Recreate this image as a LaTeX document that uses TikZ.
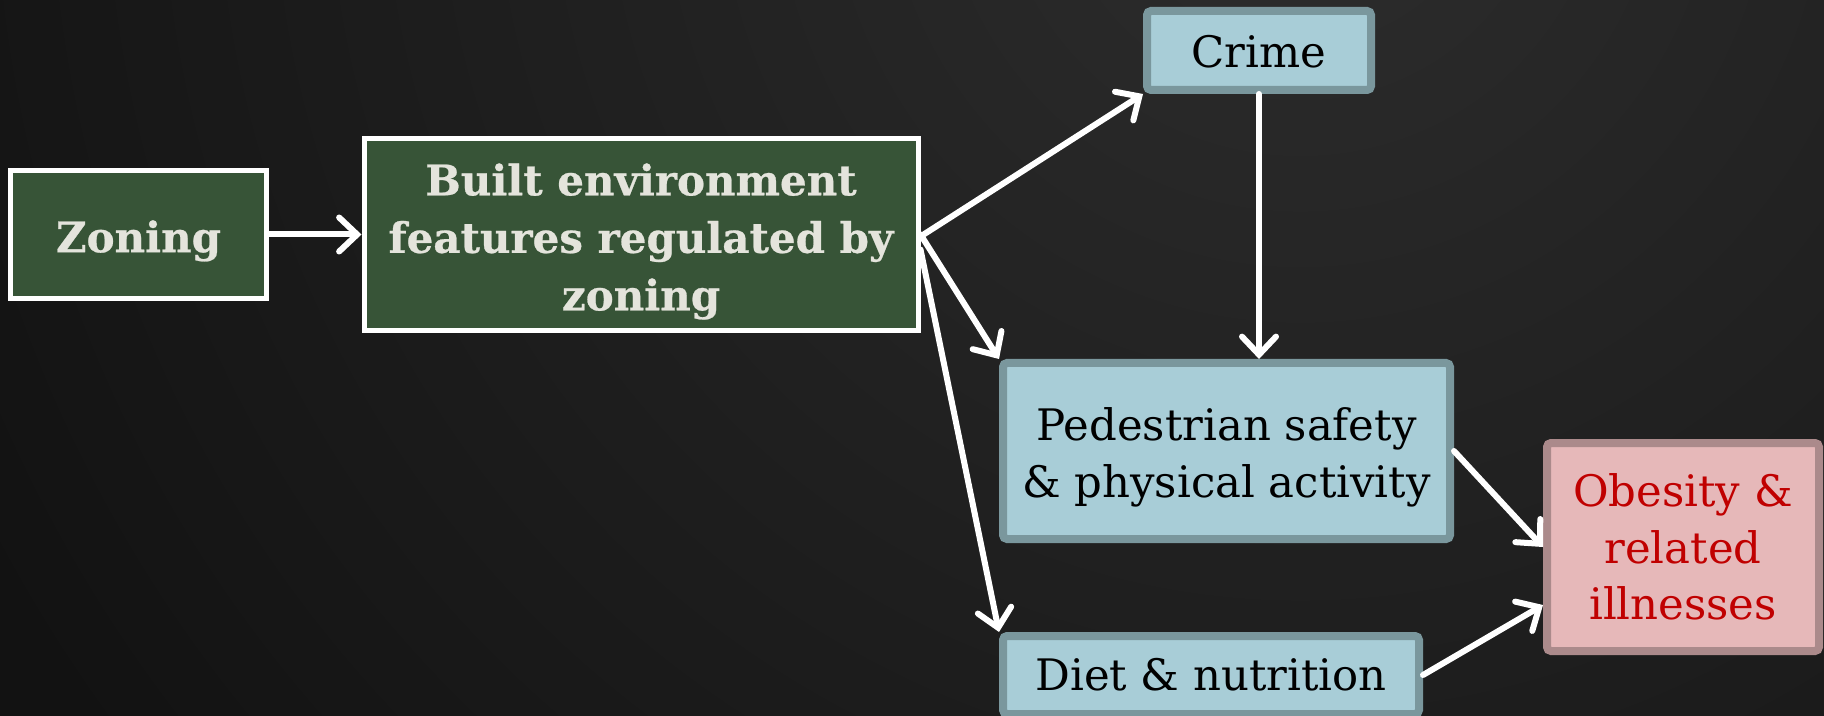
\documentclass[tikz,border=0pt]{standalone}
\usepackage{fontspec}
\usetikzlibrary{arrows.meta}
\setmainfont{DejaVu Serif}
\newfontfamily\greenfont{DejaVu Serif Bold}[FakeBold=0.6]
\definecolor{bgdark}{HTML}{121212}
\definecolor{bglight}{HTML}{2D2D2D}
\definecolor{greenfill}{HTML}{375437}
\definecolor{greentext}{HTML}{E4E4DC}
\definecolor{bluefill}{HTML}{A8CDD7}
\definecolor{blueline}{HTML}{7A979D}
\definecolor{pinkfill}{HTML}{E6B8B9}
\definecolor{pinkline}{HTML}{AB8A8B}
\definecolor{redtext}{HTML}{C00000}
\tikzset{
  greenbox/.style={draw=white, line width=2.5pt, fill=greenfill, inner sep=0pt},
  greenlabel/.style={text=greentext, align=center, inner sep=0pt,
    font=\greenfont\fontsize{21}{28.75}\selectfont},
  bluebox/.style={draw=blueline, line width=4pt, fill=bluefill, rounded corners=2pt, inner sep=0pt},
  bluelabel/.style={text=black, align=center, inner sep=0pt, font=\fontsize{21.7}{28.5}\selectfont},
  pinkbox/.style={draw=pinkline, line width=4pt, fill=pinkfill, rounded corners=2pt, inner sep=0pt},
  pinklabel/.style={text=redtext, align=center, inner sep=0pt, font=\fontsize{21.7}{28.25}\selectfont},
  flow/.style={draw=white, line width=3pt, line cap=round,
    -{Straight Barb[length=9pt,width=17pt,line cap=round]}}
}
\begin{document}
\begin{tikzpicture}[x=0.5pt,y=-0.5pt]
\useasboundingbox (0,0) rectangle (1824,716);
\clip (0,0) rectangle (1824,716);
\fill[bgdark] (0,0) rectangle (1824,716);
\shade[inner color=bglight, outer color=bgdark] (1300,-150) circle (1500);
% boxes
\node[greenbox, minimum width=128pt, minimum height=64pt] (zoning) at (138.5,234.5) {};
\node[greenbox, minimum width=277pt, minimum height=96pt] (built) at (641,234.5) {};
\node[bluebox, minimum width=112pt, minimum height=39.5pt] (crime) at (1259,50.5) {};
\node[bluebox, minimum width=223.5pt, minimum height=88pt] (ped) at (1226.5,451) {};
\node[bluebox, minimum width=208pt, minimum height=39pt] (diet) at (1211,675) {};
\node[pinkbox, minimum width=136pt, minimum height=104pt] (obes) at (1683,547) {};
% texts
\node[greenlabel] (zoningtext) at ([yshift=-3.2pt]zoning.center) {Zoning};
\node[greenlabel] (builttext) at ([yshift=-3.5pt]built.center)
  {Built environment\\features regulated by\\zoning};
\node[bluelabel] (crimetext) at ([yshift=-0.4pt]crime.center) {Crime};
\node[bluelabel] (pedtext) at ([yshift=-3pt]ped.center) {Pedestrian safety\\\&~physical activity};
\node[bluelabel] (diettext) at (diet.center) {Diet \& nutrition};
\node[pinklabel] (obestext) at (obes.center) {Obesity \&\\related\\illnesses};
% connectors
\coordinate (bstart1) at ([yshift=-1pt]built.east);
\coordinate (bstart2) at ([yshift=-7.5pt]built.east);
\coordinate (oend) at ([yshift=-29pt]obes.west);
\draw[flow] (zoning.east) -- (built.west);
\draw[flow] (bstart1) -- (crime.south west);
\draw[flow] (built.east) -- (ped.north west);
\draw[flow] (bstart2) -- (diet.north west);
\draw[flow] (crime.south) -- (crime.south |- ped.north);
\draw[flow] (ped.east) -- (obes.west);
\draw[flow] (diet.east) -- (oend);
\end{tikzpicture}
\end{document}
